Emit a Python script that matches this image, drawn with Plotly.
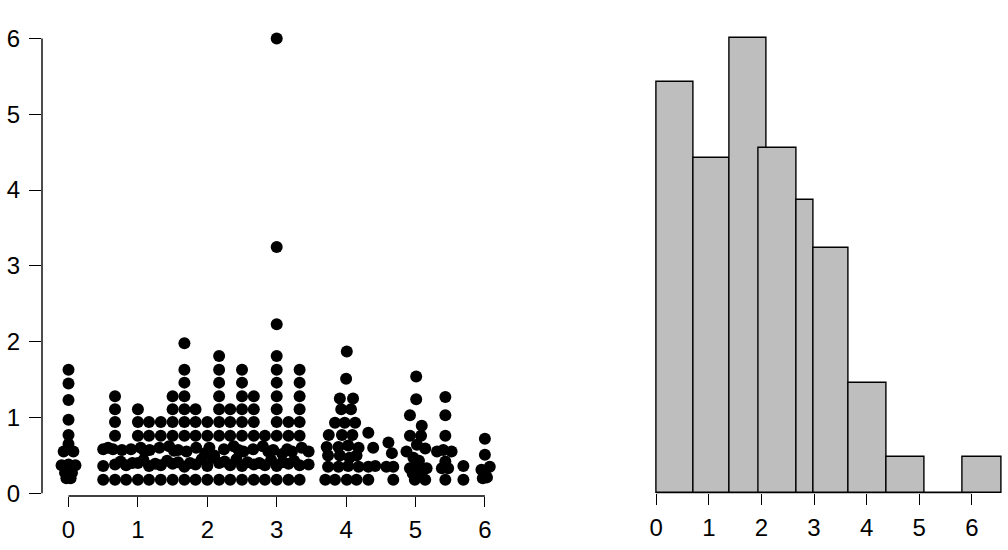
import plotly.graph_objects as go

# ---------------- data: dot plot (left) ----------------
# column at x = 0
col0_x = [0.00, 0.00, 0.00, 0.00, 0.00, 0.00, -0.07, 0.07, -0.10, 0.10, 0.00, -0.05, 0.05, -0.03, 0.03]
col0_y = [1.63, 1.45, 1.23, 0.97, 0.77, 0.65, 0.55, 0.55, 0.37, 0.37, 0.38, 0.27, 0.27, 0.20, 0.20]

# upper stacks (levels from 0.76 up) in the dense block
stack_x = [0.67, 1.00, 1.16, 1.33, 1.50, 1.67, 1.83, 2.00, 2.17, 2.33, 2.50, 2.67, 2.83, 3.00, 3.17, 3.33]
stack_y = [
    [0.76, 0.94, 1.11, 1.28],
    [0.76, 0.94, 1.11],
    [0.76, 0.94],
    [0.76, 0.94],
    [0.76, 0.94, 1.11, 1.28],
    [0.76, 0.94, 1.11, 1.28, 1.46, 1.63, 1.98],
    [0.76, 0.94, 1.11],
    [0.76, 0.94],
    [0.76, 0.94, 1.11, 1.28, 1.46, 1.63, 1.81],
    [0.76, 0.94, 1.11],
    [0.76, 0.94, 1.11, 1.28, 1.46, 1.63],
    [0.76, 0.94, 1.11, 1.28],
    [0.76],
    [0.76, 0.94, 1.11, 1.28, 1.46, 1.63, 1.81, 2.23, 3.25, 6.00],
    [0.76, 0.94],
    [0.76, 0.94, 1.11, 1.28, 1.46, 1.63],
]

# bottom rows of the dense block
row1_x = [0.50, 0.67, 0.83, 1.00, 1.16, 1.33, 1.50, 1.67, 1.83, 2.00, 2.17, 2.33, 2.50, 2.67, 2.83, 3.00, 3.17, 3.33]
row1_y = [0.18] * 18
row2_x = [0.50, 0.67, 0.83, 1.00, 1.16, 1.33, 1.50, 1.67, 1.83, 2.00, 2.17, 2.33, 2.50, 2.67, 2.83, 3.00, 3.17, 3.33, 3.46,
          0.75, 0.92, 1.08, 1.25, 1.42, 1.58, 1.75, 1.92, 2.08, 2.25, 2.42, 2.58, 2.75, 2.92, 3.08, 3.25]
row2_y = [0.36, 0.38, 0.37, 0.40, 0.36, 0.37, 0.39, 0.35, 0.38, 0.36, 0.40, 0.37, 0.36, 0.38, 0.37, 0.36, 0.39, 0.37, 0.38,
          0.42, 0.40, 0.44, 0.39, 0.43, 0.41, 0.40, 0.45, 0.47, 0.42, 0.45, 0.41, 0.40, 0.44, 0.41, 0.43]
row3_x = [0.50, 0.64, 0.77, 0.90, 1.04, 1.17, 1.31, 1.45, 1.58, 1.70, 1.84, 1.97, 2.10, 2.24, 2.38, 2.52, 2.66, 2.80,
          2.95, 3.08, 3.22, 3.36, 3.46, 0.57, 1.10, 1.52, 2.03, 2.45, 2.88, 3.15]
row3_y = [0.58, 0.58, 0.57, 0.58, 0.60, 0.57, 0.60, 0.62, 0.57, 0.55, 0.60, 0.53, 0.50, 0.58, 0.62, 0.55, 0.58, 0.62,
          0.57, 0.52, 0.55, 0.60, 0.55, 0.60, 0.55, 0.56, 0.60, 0.57, 0.55, 0.58]

# right-hand clusters
right_x = [4.01, 4.00, 3.91, 4.10, 3.93, 4.07, 3.84, 3.98, 4.13, 3.75, 3.94, 4.09, 4.32,
           3.72, 3.89, 4.03, 4.18, 4.39, 4.61, 3.74, 3.91, 4.05, 4.15, 4.66,
           3.74, 3.89, 4.03, 4.18, 4.32, 4.42, 4.58, 4.68, 3.70, 3.84, 4.01, 4.15, 4.32, 4.68,
           5.01, 5.01, 5.43, 4.92, 5.43, 5.09, 4.92, 5.08, 5.43,
           4.87, 5.02, 5.14, 5.31, 5.40, 5.52, 4.97, 5.05, 5.43,
           4.92, 5.04, 5.16, 5.38, 5.47, 5.69, 4.96, 5.08, 4.99, 5.14, 5.43, 5.69,
           6.00, 6.00, 5.95, 6.07, 6.00, 5.97, 6.03]
right_y = [1.87, 1.51, 1.25, 1.25, 1.11, 1.11, 0.93, 0.93, 0.93, 0.77, 0.77, 0.77, 0.80,
           0.61, 0.61, 0.63, 0.60, 0.60, 0.67, 0.50, 0.50, 0.47, 0.50, 0.53,
           0.35, 0.35, 0.36, 0.35, 0.35, 0.36, 0.35, 0.35, 0.18, 0.18, 0.18, 0.18, 0.18, 0.18,
           1.54, 1.24, 1.27, 1.03, 1.03, 0.89, 0.76, 0.76, 0.76,
           0.55, 0.64, 0.59, 0.55, 0.57, 0.55, 0.47, 0.43, 0.42,
           0.33, 0.37, 0.33, 0.33, 0.33, 0.36, 0.26, 0.27, 0.18, 0.18, 0.18, 0.18,
           0.72, 0.51, 0.31, 0.35, 0.26, 0.20, 0.21]

# ---------------- data: histogram (right) ----------------
hist_left = [0.00, 0.707, 1.40, 1.94, 2.665, 3.00, 3.65, 4.38, 5.10, 5.83]
hist_right = [0.707, 1.40, 2.10, 2.665, 3.00, 3.65, 4.38, 5.10, 5.83, 6.57]
hist_height = [5.42, 4.42, 6.00, 4.55, 3.87, 3.23, 1.45, 0.48, 0.00, 0.48]

tick_vals = [0, 1, 2, 3, 4, 5, 6]
tick_text = ["0", "1", "2", "3", "4", "5", "6"]

# ---------------- assemble ----------------
dot_x = list(col0_x)
dot_y = list(col0_y)
for cx, ys in zip(stack_x, stack_y):
    dot_x += [cx] * len(ys)
    dot_y += ys
dot_x += row1_x + row2_x + row3_x + right_x
dot_y += row1_y + row2_y + row3_y + right_y

FONT = "Liberation Sans, Arial, sans-serif"

fig = go.Figure()
fig.add_trace(go.Scatter(
    x=dot_x, y=dot_y, mode="markers",
    marker=dict(size=12, color="black", line=dict(width=0)),
    cliponaxis=False, showlegend=False, xaxis="x", yaxis="y", hoverinfo="skip"))

centers = [(a + b) / 2 for a, b in zip(hist_left, hist_right)]
widths = [b - a for a, b in zip(hist_left, hist_right)]
fig.add_trace(go.Bar(
    x=centers, y=hist_height, width=widths,
    marker=dict(color="#bebebe", line=dict(color="black", width=1.4)),
    cliponaxis=False, showlegend=False, xaxis="x2", yaxis="y2", hoverinfo="skip"))

FIG_W, FIG_H = 1008, 550
ML, MR, MT, MB = 42, 4, 30, 54
W_PLOT = FIG_W - ML - MR
H_PLOT = FIG_H - MT - MB
left_end = (506 - ML) / W_PLOT
right_start = (653.6 - ML) / W_PLOT
hist_base = 2.7 / H_PLOT
Y_TOP = 6.112

axis_common = dict(
    showgrid=False, zeroline=False, showline=False, automargin=False,
    ticks="outside", tickcolor="black", tickwidth=1.3,
    tickfont=dict(family=FONT, size=24, color="black"),
    tickvals=tick_vals, ticktext=tick_text,
)

fig.update_layout(
    width=FIG_W, height=FIG_H,
    margin=dict(l=ML, r=MR, t=MT, b=MB, autoexpand=False),
    paper_bgcolor="white", plot_bgcolor="white",
    bargap=0, barmode="overlay",
    xaxis=dict(domain=[0, left_end], range=[-0.382, 6.304], anchor="y", ticklen=10,
               ticklabelstandoff=2, **axis_common),
    yaxis=dict(domain=[0, 1], range=[-0.0356, Y_TOP], anchor="x", ticklen=12,
               ticklabelstandoff=4, **axis_common),
    xaxis2=dict(domain=[right_start, 1], range=[-0.05, 6.612], anchor="y2", ticklen=11,
                ticklabelstandoff=2, **axis_common),
    yaxis2=dict(domain=[hist_base, 1], range=[0, Y_TOP], anchor="x2", visible=False),
    shapes=[
        dict(type="line", xref="x", yref="paper", x0=0, x1=6, y0=0, y1=0,
             line=dict(color="black", width=1.4)),
        dict(type="line", xref="paper", yref="y", x0=0, x1=0, y0=0, y1=6,
             line=dict(color="black", width=1.4)),
        dict(type="line", xref="x2", yref="y2", x0=0, x1=6, y0=0, y1=0,
             line=dict(color="black", width=1.4)),
    ],
)

# remove the default 8px page margin so the 1008x550 figure fills the window
fig.write_html("out.html", config={"displayModeBar": False},
               post_script="document.body.style.margin='0';document.body.style.overflow='hidden';")
